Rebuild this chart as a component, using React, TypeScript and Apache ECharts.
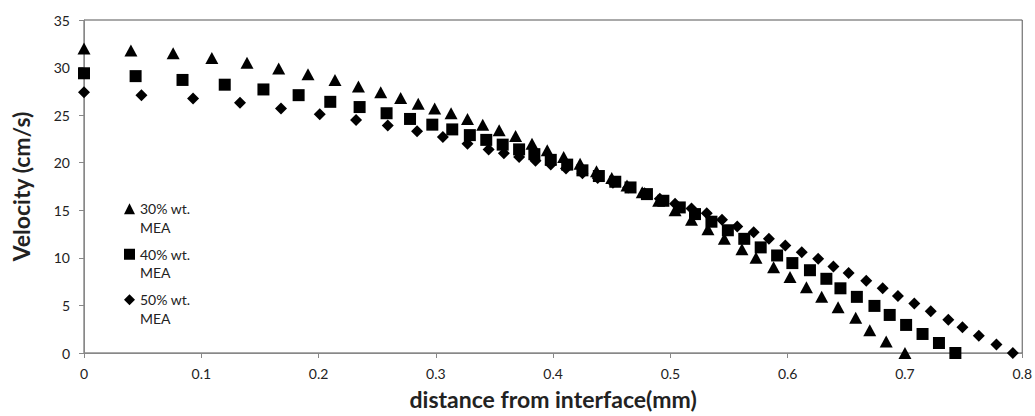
import React, { useEffect, useRef } from "react";
import * as echarts from "echarts";

const xTicks = [0, 0.1, 0.2, 0.3, 0.4, 0.5, 0.6, 0.7, 0.8];
const yTicks = [0, 5, 10, 15, 20, 25, 30, 35];

const seriesNames = ["30% wt. MEA", "40% wt. MEA", "50% wt. MEA"];

const x30 = [0, 0.04, 0.076, 0.109, 0.139, 0.166, 0.191, 0.214, 0.234, 0.253, 0.27, 0.285, 0.299, 0.313, 0.327, 0.34, 0.354, 0.368, 0.382, 0.395, 0.409, 0.423, 0.437, 0.45, 0.463, 0.476, 0.49, 0.504, 0.518, 0.532, 0.546, 0.561, 0.573, 0.588, 0.602, 0.616, 0.629, 0.643, 0.658, 0.67, 0.684, 0.7];
const y30 = [32.0, 31.8, 31.5, 31.0, 30.5, 29.9, 29.3, 28.7, 28.0, 27.4, 26.8, 26.2, 25.7, 25.2, 24.6, 24.0, 23.4, 22.8, 22.0, 21.3, 20.6, 19.9, 19.1, 18.4, 17.6, 16.9, 16.0, 15.0, 14.0, 13.0, 12.0, 10.9, 10.0, 9.0, 8.0, 6.9, 5.9, 4.8, 3.7, 2.4, 1.2, 0];

const x40 = [0, 0.044, 0.084, 0.12, 0.153, 0.183, 0.21, 0.235, 0.258, 0.278, 0.297, 0.314, 0.329, 0.343, 0.357, 0.371, 0.384, 0.398, 0.412, 0.425, 0.439, 0.453, 0.466, 0.48, 0.494, 0.508, 0.521, 0.535, 0.549, 0.563, 0.577, 0.591, 0.604, 0.619, 0.633, 0.645, 0.659, 0.674, 0.687, 0.701, 0.715, 0.729, 0.743];
const y40 = [29.4, 29.1, 28.7, 28.2, 27.7, 27.1, 26.4, 25.85, 25.2, 24.6, 24.0, 23.5, 22.9, 22.4, 21.9, 21.4, 20.9, 20.3, 19.8, 19.2, 18.6, 18.0, 17.4, 16.7, 16.0, 15.3, 14.6, 13.8, 12.9, 12.0, 11.1, 10.25, 9.45, 8.7, 7.8, 6.8, 5.9, 4.95, 4.0, 2.95, 2.0, 1.05, 0];

const x50 = [0, 0.049, 0.093, 0.133, 0.168, 0.201, 0.232, 0.259, 0.284, 0.306, 0.327, 0.345, 0.358, 0.371, 0.385, 0.398, 0.411, 0.425, 0.438, 0.451, 0.464, 0.478, 0.491, 0.504, 0.518, 0.531, 0.544, 0.557, 0.571, 0.584, 0.598, 0.612, 0.626, 0.639, 0.652, 0.667, 0.681, 0.694, 0.708, 0.722, 0.737, 0.749, 0.763, 0.778, 0.792];
const y50 = [27.4, 27.1, 26.75, 26.3, 25.7, 25.1, 24.5, 23.9, 23.3, 22.7, 22.0, 21.4, 21.0, 20.6, 20.2, 19.8, 19.4, 18.9, 18.4, 17.9, 17.4, 16.8, 16.2, 15.7, 15.2, 14.7, 14.0, 13.3, 12.7, 12.0, 11.3, 10.6, 9.9, 9.1, 8.4, 7.6, 6.8, 6.0, 5.2, 4.4, 3.5, 2.7, 1.8, 0.9, 0];

const pair = (xs: number[], ys: number[]) => xs.map((x, i) => [x, ys[i]]);

const FONT = "Lato, 'Open Sans', sans-serif";

export default function App() {
  const ref = useRef<HTMLDivElement>(null);
  useEffect(() => {
    document.body.style.margin = "0";
    document.documentElement.style.overflow = "hidden";
    const chart = echarts.init(ref.current!, null, { renderer: "svg" });
    const symbols = ["triangle", "rect", "diamond"];
    const sizes: any[] = [[13, 12], 12, 12];
    const datas = [pair(x30, y30), pair(x40, y40), pair(x50, y50)];
    chart.setOption({
      animation: false,
      backgroundColor: "#fff",
      textStyle: { fontFamily: FONT },
      grid: {
        left: 84,
        right: 8,
        top: 20,
        bottom: 59,
        show: true,
        borderColor: "#555",
        borderWidth: 1,
      },
      legend: {
        orient: "vertical",
        left: 124,
        top: 181,
        padding: 0,
        itemWidth: 11,
        itemHeight: 11,
        itemGap: -10,
        selectedMode: false,
        data: seriesNames.map((n, i) => ({ name: n, icon: symbols[i] })),
        formatter: (name: string) => "\u00a0\n" + name.replace(" MEA", "\nMEA"),
        textStyle: {
          fontFamily: FONT,
          fontSize: 14,
          color: "#222",
          lineHeight: 18.5,
        },
        itemStyle: { color: "#000", opacity: 1 },
      },
      xAxis: {
        type: "value",
        min: xTicks[0],
        max: xTicks[xTicks.length - 1],
        interval: 0.1,
        name: "distance from interface(mm)",
        nameLocation: "middle",
        nameGap: 34,
        nameTextStyle: { fontFamily: FONT, fontSize: 23, fontWeight: "bold", color: "#222", lineHeight: 24 },
        axisLine: { show: true, lineStyle: { color: "#888", width: 1 } },
        axisTick: { show: true, length: 5, lineStyle: { color: "#888" } },
        axisLabel: {
          margin: 13,
          fontFamily: FONT,
          fontSize: 14,
          color: "#222",
          formatter: (v: number) => (v === 0 ? "0" : String(Math.round(v * 10) / 10)),
        },
        splitLine: { show: false },
      },
      yAxis: {
        type: "value",
        min: yTicks[0],
        max: yTicks[yTicks.length - 1],
        interval: 5,
        name: "Velocity (cm/s)",
        nameLocation: "middle",
        nameGap: 52,
        nameTextStyle: { fontFamily: FONT, fontSize: 23, fontWeight: "bold", color: "#222" },
        axisLine: { show: true, lineStyle: { color: "#888", width: 1 } },
        axisTick: { show: true, length: 5, lineStyle: { color: "#888" } },
        axisLabel: { margin: 14, fontFamily: FONT, fontSize: 14, color: "#222" },
        splitLine: { show: false },
      },
      series: seriesNames.map((n, i) => ({
        name: n,
        type: "scatter",
        symbol: symbols[i],
        symbolSize: sizes[i],
        clip: false,
        itemStyle: { color: "#000", opacity: 1 },
        data: datas[i],
      })),
    });
    return () => chart.dispose();
  }, []);
  return <div ref={ref} style={{ width: 1035, height: 416, overflow: "hidden" }} />;
}
